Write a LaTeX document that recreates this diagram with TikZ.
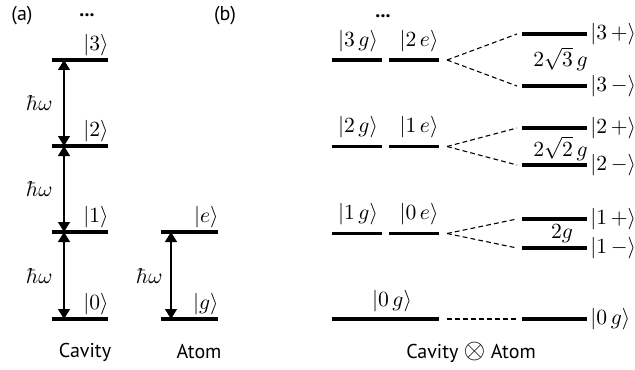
\RequirePackage{fix-cm}
\documentclass[tikz,border=0pt]{standalone}
\usepackage{fontspec}
\setsansfont{PT Sans}
\usetikzlibrary{arrows.meta}
\begin{document}
\begin{tikzpicture}[x=0.5pt,y=-0.5pt,
  lev/.style={line width=1.75pt},
  arr/.style={line width=0.6pt,{Triangle[length=5pt,width=6pt]}-{Triangle[length=5pt,width=6pt]}},
  dsh/.style={line width=0.55pt,dash pattern=on 2.4pt off 1.6pt},
  ket/.style={inner sep=0pt,font=\fontsize{10.8}{13}\selectfont},
  lbl/.style={font=\sffamily, inner sep=0pt}]
\useasboundingbox (0,0) rectangle (635,369);

% ---------- panel (a)
\node[lbl] (a) at (22,16) {(a)};
\node[lbl,font=\sffamily\bfseries] (adots) at (87,15) {...};
\foreach \n/\y in {0/319,1/232,2/146,3/60}{
  \coordinate (cL\n) at (52,\y);
  \coordinate (cR\n) at (108,\y);
  \coordinate (cA\n) at (64,\y);
  \draw[lev] (cL\n) -- (cR\n);
  \node[ket,anchor=south east] (kc\n) at (109,{\y-4}) {$|\n\rangle$};
}
\draw[arr] (cA3) -- (cA2);
\draw[arr] (cA2) -- (cA1);
\draw[arr] (cA1) -- (cA0);
\node[ket,anchor=east] (hw3) at (53,103) {$\hbar\omega$};
\node[ket,anchor=east] (hw2) at (53,189) {$\hbar\omega$};
\node[ket,anchor=east] (hw1) at (53,275.5) {$\hbar\omega$};

\coordinate (aL1) at (161,232); \coordinate (aR1) at (218,232); \coordinate (aA1) at (171,232);
\coordinate (aL0) at (161,319); \coordinate (aR0) at (218,319); \coordinate (aA0) at (171,319);
\draw[lev] (aL1) -- (aR1);
\draw[lev] (aL0) -- (aR0);
\draw[arr] (aA1) -- (aA0);
\node[ket,anchor=south east] (ke) at (219,228) {$|e\rangle$};
\node[ket,anchor=south east] (kg) at (219,315) {$|g\rangle$};
\node[ket,anchor=east] (hwa) at (163,275.5) {$\hbar\omega$};

\node[lbl] (cav) at (85,352) {Cavity};
\node[lbl] (atm) at (199,352) {Atom};

% ---------- panel (b)
\node[lbl] (b) at (225,16) {(b)};
\node[lbl,font=\sffamily\bfseries] (bdots) at (383,16) {...};
\foreach \n/\m/\y/\d in {3/2/60/26, 2/1/146.5/18.5, 1/0/233.5/14.5}{
  \coordinate (gL\n) at (332,\y); \coordinate (gR\n) at (382,\y);
  \coordinate (eL\n) at (389,\y); \coordinate (eR\n) at (439,\y);
  \draw[lev] (gL\n) -- (gR\n);
  \draw[lev] (eL\n) -- (eR\n);
  \node[ket,anchor=south] (kg\n) at (358,{\y-8}) {$|\n\,g\rangle$};
  \node[ket,anchor=south] (ke\m) at (419,{\y-8}) {$|\m\,e\rangle$};
  \coordinate (s\n) at (447,\y);
  \coordinate (pd\n) at (517,{\y-\d}); \coordinate (md\n) at (517,{\y+\d});
  \coordinate (pL\n) at (522,{\y-\d}); \coordinate (pR\n) at (587,{\y-\d});
  \coordinate (mL\n) at (522,{\y+\d}); \coordinate (mR\n) at (587,{\y+\d});
  \draw[dsh] (s\n) -- (pd\n);
  \draw[dsh] (s\n) -- (md\n);
  \draw[lev] (pL\n) -- (pR\n);
  \draw[lev] (mL\n) -- (mR\n);
  \node[ket,anchor=west] (kp\n) at (590,{\y-\d}) {$|\n\,{+}\rangle$};
  \node[ket,anchor=west] (km\n) at (590,{\y+\d}) {$|\n\,{-}\rangle$};
}
\node[ket,anchor=base east] (sp3) at (588,67) {$2\sqrt{3}\,g$};
\node[ket,anchor=base east] (sp2) at (588,156) {$2\sqrt{2}\,g$};
\node[ket,anchor=base] (sp1) at (562,238) {$2g$};

\coordinate (zL) at (332,319); \coordinate (zR) at (439,319);
\coordinate (zs) at (447,319); \coordinate (zd) at (517,319);
\coordinate (zA) at (522,319); \coordinate (zB) at (587,319);
\draw[lev] (zL) -- (zR);
\draw[dsh] (zs) -- (zd);
\draw[lev] (zA) -- (zB);
\node[ket,anchor=south] (kz) at (392,312) {$|0\,g\rangle$};
\node[ket,anchor=west] (kzr) at (590,319) {$|0\,g\rangle$};

\node[lbl] (prod) at (471,352) {Cavity {\fontsize{14}{14}\selectfont$\otimes$} Atom};
\end{tikzpicture}
\end{document}
